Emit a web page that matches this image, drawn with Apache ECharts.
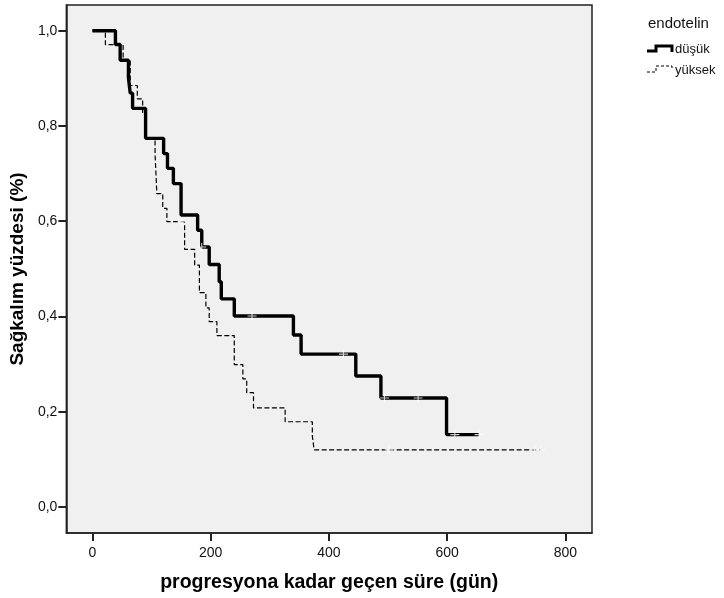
<!DOCTYPE html>
<html>
<head>
<meta charset="utf-8">
<script src="https://cdn.jsdelivr.net/npm/echarts@6/dist/echarts.min.js"></script>
<style>
  html, body { margin: 0; padding: 0; background: #fff; }
  #chart { width: 724px; height: 598px; }
</style>
</head>
<body>
<div id="chart"></div>
<script>
// Kaplan-Meier survival estimates by endothelin group
const lowTimes  = [0, 39, 47, 61, 64, 68, 90, 120.5, 127, 137, 150, 178, 185, 197.6, 214.5, 218, 240, 340, 353, 445.5, 488, 599];
const lowSurv   = [1, 0.971, 0.938, 0.901, 0.869, 0.837, 0.774, 0.742, 0.711, 0.679, 0.613, 0.581, 0.546, 0.509, 0.473, 0.437, 0.401, 0.361, 0.321, 0.275, 0.229, 0.152];
const lowCensored = [185, 270, 424.6, 494, 551, 613, 654];

const highTimes = [0, 22, 52, 64, 76, 85, 91, 106, 109, 119, 126, 156, 173, 181, 192, 197.6, 210.6, 240, 254.5, 261, 272.5, 326, 372, 375];
const highSurv  = [1, 0.971, 0.938, 0.885, 0.857, 0.827, 0.774, 0.742, 0.658, 0.627, 0.599, 0.541, 0.508, 0.450, 0.418, 0.389, 0.360, 0.299, 0.269, 0.240, 0.208, 0.179, 0.149, 0.120];
const highCensored = [151.5, 502, 748, 758];

const groupNames = ['düşük', 'yüksek'];
const xTicks = [0, 200, 400, 600, 800];
const yTicks = [0, 0.2, 0.4, 0.6, 0.8, 1.0];

// survival level in effect at time t (right-continuous step function)
function survAt(times, surv, t) {
  let s = surv[0];
  for (let i = 0; i < times.length; i++) if (times[i] <= t) s = surv[i];
  return s;
}

function stepData(times, surv, censored) {
  const pts = times.map((t, i) => [t, surv[i]]);
  const last = censored[censored.length - 1];
  if (last > times[times.length - 1]) pts.push([last, surv[surv.length - 1]]);
  return pts;
}

function censorData(times, surv, censored) {
  return censored.map(t => [t, survAt(times, surv, t)]);
}

const crossPath = 'path://M0,3.5h9v1.1h-9zM3.95,0h1.1v8h-1.1z';
const font = 'Arial, "Liberation Sans", sans-serif';

const chart = echarts.init(document.getElementById('chart'), null, { renderer: 'canvas' });

chart.setOption({
  animation: false,
  backgroundColor: '#ffffff',
  grid: {
    left: 65, right: 132, top: 5, bottom: 65,
    show: true, backgroundColor: '#f0f0f0', borderColor: '#222', borderWidth: 1.5
  },
  xAxis: {
    type: 'value', min: -44, max: 845,
    name: 'progresyona kadar geçen süre (gün)',
    nameLocation: 'middle', nameGap: 40,
    nameTextStyle: { fontFamily: font, fontWeight: 'bold', fontSize: 19.5, color: '#000' },
    axisLine: { show: true, onZero: false, lineStyle: { color: '#222', width: 1.5 } },
    axisTick: { show: true, inside: false, length: 8, customValues: xTicks, lineStyle: { color: '#222', width: 2 } },
    axisLabel: { customValues: xTicks, margin: 13, fontFamily: font, fontSize: 14, color: '#111' },
    splitLine: { show: false }
  },
  yAxis: {
    type: 'value', min: -0.0546, max: 1.054,
    name: 'Sağkalım yüzdesi (%)',
    nameLocation: 'middle', nameGap: 31, nameRotate: 90,
    nameTextStyle: { fontFamily: font, fontWeight: 'bold', fontSize: 19, color: '#000' },
    axisLine: { show: true, onZero: false, lineStyle: { color: '#222', width: 1.5 } },
    axisTick: { show: true, inside: false, length: 8, customValues: yTicks, lineStyle: { color: '#222', width: 2 } },
    axisLabel: {
      customValues: yTicks, margin: 9, fontFamily: font, fontSize: 14, color: '#111',
      formatter: v => v.toFixed(1).replace('.', ',')
    },
    splitLine: { show: false }
  },
  series: [
    {
      name: groupNames[1], type: 'line', step: 'end', showSymbol: false, z: 2,
      data: stepData(highTimes, highSurv, highCensored),
      lineStyle: { color: '#000', width: 1.2, type: [5, 2.5] }
    },
    {
      name: groupNames[0], type: 'line', step: 'end', showSymbol: false, z: 3,
      data: stepData(lowTimes, lowSurv, lowCensored),
      lineStyle: { color: '#000', width: 3.4, type: 'solid' }
    },
    {
      type: 'scatter', z: 4, symbol: crossPath, symbolSize: [9, 8],
      data: censorData(highTimes, highSurv, highCensored),
      itemStyle: { color: '#ffffff' }
    },
    {
      type: 'scatter', z: 4, symbol: crossPath, symbolSize: [9, 8],
      data: censorData(lowTimes, lowSurv, lowCensored),
      itemStyle: { color: '#ffffff' }
    }
  ],
  graphic: [
    { type: 'text', left: 648, top: 16, style: { text: 'endotelin', fontFamily: font, fontSize: 15, fill: '#111' } },
    { type: 'polyline', shape: { points: [[647, 51], [656, 51], [656, 46], [672, 46], [672, 52]] },
      style: { stroke: '#000', lineWidth: 3, fill: null } },
    { type: 'text', left: 675, top: 43, style: { text: groupNames[0], fontFamily: font, fontSize: 13, fill: '#111' } },
    { type: 'polyline', shape: { points: [[647, 72], [656, 72], [656, 66], [672, 66], [672, 70]] },
      style: { stroke: '#000', lineWidth: 1, lineDash: [3, 2], fill: null } },
    { type: 'text', left: 675, top: 64, style: { text: groupNames[1], fontFamily: font, fontSize: 13, fill: '#111' } }
  ]
});
</script>
</body>
</html>
